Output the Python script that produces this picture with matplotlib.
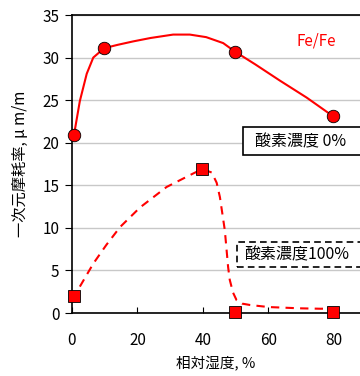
import matplotlib
matplotlib.use('Agg')
import matplotlib.pyplot as plt
from matplotlib.patches import Rectangle

plt.rcParams['font.family'] = ['Noto Sans CJK JP', 'DejaVu Sans']

# measured points
rh_0 = [0.6, 9.8, 49.8, 79.8]
wear_0 = [20.9, 31.1, 30.7, 23.1]
rh_100 = [0.6, 39.8, 49.8, 79.8]
wear_100 = [2.0, 16.9, 0.1, 0.1]

# smoothed curves
curve0_x = [0.6, 2.4, 4.5, 6.5, 9.8, 14.0, 18.7, 24.0, 30.9, 36.0, 41.0, 46.2,
            49.8, 56.0, 63.5, 71.7, 79.8]
curve0_y = [20.9, 24.9, 28.1, 30.0, 31.1, 31.5, 31.9, 32.3, 32.7, 32.7, 32.4, 31.7,
            30.7, 29.2, 27.3, 25.3, 23.1]
curve100_x = [2.4, 6.5, 10.5, 14.7, 20.8, 28.9, 37.1, 39.8, 42.7, 44.2, 45.2, 46.7,
              47.7, 48.2, 49.2, 50.3, 52.0, 54.4, 60.0, 69.6, 76.0, 82.8]
curve100_y = [3.1, 5.8, 8.0, 10.1, 12.4, 14.8, 16.4, 16.9, 16.5, 15.3, 13.6, 9.7,
              5.4, 3.9, 2.4, 1.5, 1.1, 0.94, 0.7, 0.55, 0.5, 0.55]

yticks = [0, 5, 10, 15, 20, 25, 30, 35]
xticks = [0, 20, 40, 60, 80]

fig = plt.figure(figsize=(3.6, 3.76), dpi=100)
ax = fig.add_axes([72 / 360, 1 - 313 / 376, 1 - 72 / 360, (313 - 15) / 376])

ax.set_xlim(0, 88)
ax.set_ylim(0, 35)
ax.set_yticks(yticks)
ax.set_xticks(xticks)
ax.grid(axis='y', color='#c8c8c8', linewidth=1)
ax.set_axisbelow(True)
ax.spines['right'].set_visible(False)
for s in ['left', 'bottom', 'top']:
    ax.spines[s].set_linewidth(1.2)
ax.tick_params(axis='x', direction='in', length=4, labelsize=11, pad=14)
ax.tick_params(axis='y', direction='out', length=5, labelsize=11, pad=4)

ax.plot(curve0_x, curve0_y, color='red', linewidth=1.5, zorder=3)
ax.plot(rh_0, wear_0, 'o', color='red', markeredgecolor='black',
        markeredgewidth=0.6, markersize=9, zorder=4, clip_on=False)
ax.plot(curve100_x, curve100_y, color='red', linewidth=1.5,
        dashes=(4, 3), zorder=3)
ax.plot(rh_100, wear_100, 's', color='red', markeredgecolor='black',
        markeredgewidth=0.6, markersize=8, zorder=4, clip_on=False)

ax.text(68.7, 32.0, 'Fe/Fe', color='red', fontsize=11, va='center')

# legend-like boxes running off the right edge
ax.add_patch(Rectangle((52.2, 18.5), 45, 3.4, fc='white', ec='black', lw=1.2,
                       zorder=5, clip_on=False))
ax.text(55.8, 20.15, '酸素濃度 0%', fontsize=11.5, va='center', zorder=6)
ax.add_patch(Rectangle((50.4, 5.4), 47, 2.9, fc='white', ec='black', lw=1.2,
                       linestyle=(0, (4, 2.5)), zorder=5, clip_on=False))
ax.text(52.6, 6.8, '酸素濃度100%', fontsize=11.5, va='center', zorder=6)

ax.set_xlabel('相対湿度, %', fontsize=10.5, labelpad=5)
ax.set_ylabel('一次元摩耗率, μ m/m', fontsize=11, labelpad=10)

fig.savefig('out.png', dpi=100)
